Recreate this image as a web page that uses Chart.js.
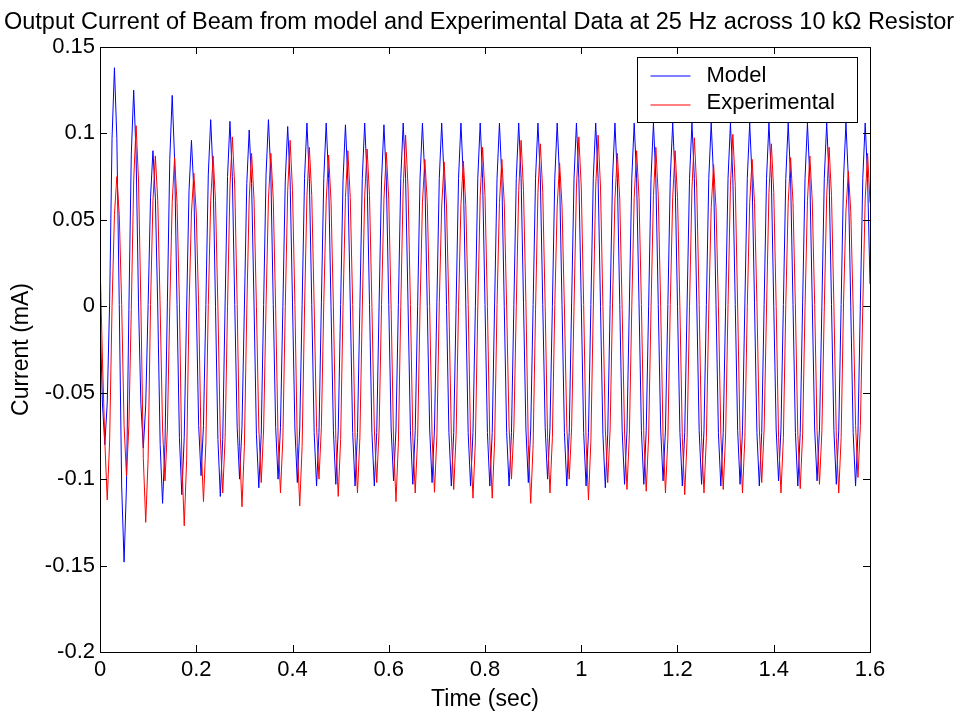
<!DOCTYPE html>
<html>
<head>
<meta charset="utf-8">
<script src="https://cdn.jsdelivr.net/npm/chart.js@4.4.1/dist/chart.umd.min.js"></script>
<style>
  html, body { margin: 0; padding: 0; background: #fff; }
  #wrap { width: 958px; height: 713px; }
</style>
</head>
<body>
<div id="wrap"><canvas id="grafica" width="958" height="713"></canvas></div>
<script>
// sampled every 5 ms, 8 samples per 25 Hz cycle (one row = one cycle)
const timeStep = 0.005;

const modelCurrent = [
  -0.003, -0.056, -0.080, -0.056, 0.002, 0.097, 0.138, 0.097,
  0.001, -0.104, -0.148, -0.104, -0.002, 0.088, 0.125, 0.088,
  0.002, -0.057, -0.082, -0.057, 0.001, 0.063, 0.090, 0.063,
  -0.001, -0.080, -0.114, -0.080, 0.002, 0.085, 0.122, 0.085,
  0.001, -0.076, -0.109, -0.076, -0.001, 0.067, 0.096, 0.067,
  0.002, -0.069, -0.098, -0.069, 0.001, 0.076, 0.108, 0.076,
  0.000, -0.077, -0.110, -0.077, 0.002, 0.075, 0.107, 0.075,
  0.001, -0.070, -0.100, -0.070, -0.001, 0.071, 0.102, 0.071,
  0.002, -0.074, -0.105, -0.074, 0.001, 0.076, 0.108, 0.076,
  0.001, -0.070, -0.100, -0.070, 0.000, 0.073, 0.104, 0.073,
  0.002, -0.071, -0.102, -0.071, 0.001, 0.074, 0.106, 0.074,
  0.001, -0.073, -0.104, -0.073, 0.002, 0.074, 0.106, 0.074,
  0.000, -0.072, -0.103, -0.072, 0.001, 0.073, 0.105, 0.073,
  0.002, -0.073, -0.104, -0.073, 0.000, 0.074, 0.106, 0.074,
  0.001, -0.073, -0.104, -0.073, 0.002, 0.073, 0.105, 0.073,
  0.001, -0.071, -0.101, -0.071, 0.001, 0.074, 0.106, 0.074,
  0.002, -0.072, -0.103, -0.072, 0.000, 0.074, 0.106, 0.074,
  0.000, -0.071, -0.102, -0.071, 0.002, 0.074, 0.106, 0.074,
  0.001, -0.073, -0.104, -0.073, 0.001, 0.074, 0.106, 0.074,
  0.002, -0.073, -0.104, -0.073, 0.000, 0.074, 0.106, 0.074,
  0.001, -0.073, -0.104, -0.073, 0.002, 0.074, 0.106, 0.074,
  0.000, -0.073, -0.104, -0.073, 0.001, 0.074, 0.106, 0.074,
  0.002, -0.071, -0.102, -0.071, 0.001, 0.074, 0.106, 0.074,
  0.001, -0.070, -0.100, -0.070, 0.000, 0.074, 0.106, 0.074,
  0.001, -0.073, -0.104, -0.073, 0.002, 0.074, 0.106, 0.074,
  0.002, -0.073, -0.104, -0.073, 0.001, 0.074, 0.106, 0.074,
  0.000, -0.074, -0.105, -0.074, 0.001, 0.074, 0.106, 0.074,
  0.001, -0.072, -0.103, -0.072, 0.002, 0.074, 0.106, 0.074,
  0.002, -0.072, -0.103, -0.072, 0.000, 0.074, 0.106, 0.074,
  0.001, -0.071, -0.101, -0.071, 0.001, 0.074, 0.106, 0.074,
  0.000, -0.073, -0.104, -0.073, 0.002, 0.074, 0.106, 0.074,
  0.002, -0.072, -0.103, -0.072, 0.001, 0.074, 0.106, 0.074,
  0.001, -0.073, -0.104, -0.073, 0.000, 0.074, 0.106, 0.074,
  0.001, -0.072, -0.103, -0.072, 0.002, 0.074, 0.106, 0.074,
  0.002, -0.073, -0.104, -0.073, 0.001, 0.074, 0.106, 0.074,
  0.000, -0.071, -0.101, -0.071, 0.001, 0.074, 0.106, 0.074,
  0.001, -0.073, -0.104, -0.073, 0.002, 0.074, 0.106, 0.074,
  0.002, -0.071, -0.101, -0.071, 0.000, 0.074, 0.106, 0.074,
  0.001, -0.072, -0.103, -0.072, 0.001, 0.074, 0.106, 0.074,
  0.000, -0.073, -0.104, -0.073, 0.002, 0.074, 0.106, 0.074,
  0.013
];

const experimentalCurrent = [
  0.027, -0.030, -0.078, -0.112, -0.078, 0.000, 0.053, 0.075,
  0.053, 0.001, -0.069, -0.098, -0.069, -0.002, 0.073, 0.1045,
  0.073, 0.000, -0.088, -0.125, -0.088, 0.001, 0.061, 0.087,
  0.061, -0.001, -0.071, -0.101, -0.071, 0.000, 0.060, 0.086,
  0.060, 0.002, -0.089, -0.127, -0.089, -0.001, 0.054, 0.077,
  0.054, 0.000, -0.079, -0.113, -0.079, 0.001, 0.061, 0.087,
  0.061, -0.001, -0.076, -0.108, -0.076, 0.000, 0.069, 0.098,
  0.069, 0.001, -0.081, -0.116, -0.081, -0.002, 0.062, 0.0885,
  0.062, 0.000, -0.071, -0.102, -0.071, 0.001, 0.062, 0.0885,
  0.062, -0.002, -0.076, -0.108, -0.076, 0.000, 0.067, 0.096,
  0.067, 0.001, -0.081, -0.1155, -0.081, -0.001, 0.064, 0.092,
  0.064, 0.000, -0.070, -0.100, -0.070, 0.002, 0.061, 0.0875,
  0.061, -0.001, -0.077, -0.110, -0.077, 0.000, 0.063, 0.090,
  0.063, 0.001, -0.076, -0.108, -0.076, -0.001, 0.064, 0.091,
  0.064, 0.000, -0.071, -0.102, -0.071, 0.001, 0.062, 0.089,
  0.062, -0.002, -0.079, -0.113, -0.079, 0.000, 0.069, 0.099,
  0.069, 0.001, -0.076, -0.108, -0.076, -0.001, 0.060, 0.085,
  0.060, 0.000, -0.075, -0.1076, -0.075, 0.002, 0.058, 0.0835,
  0.058, -0.001, -0.074, -0.106, -0.074, 0.000, 0.059, 0.084,
  0.059, 0.001, -0.078, -0.111, -0.078, -0.001, 0.064, 0.092,
  0.064, 0.000, -0.078, -0.111, -0.078, 0.001, 0.060, 0.085,
  0.060, -0.001, -0.070, -0.100, -0.070, 0.000, 0.067, 0.096,
  0.067, 0.002, -0.080, -0.114, -0.080, -0.002, 0.066, 0.094,
  0.066, 0.000, -0.076, -0.108, -0.076, 0.001, 0.058, 0.083,
  0.058, -0.001, -0.070, -0.100, -0.070, 0.000, 0.069, 0.098,
  0.069, 0.001, -0.078, -0.112, -0.078, -0.001, 0.069, 0.099,
  0.069, 0.000, -0.071, -0.102, -0.071, 0.002, 0.062, 0.0885,
  0.062, -0.002, -0.074, -0.106, -0.074, 0.000, 0.063, 0.090,
  0.063, 0.001, -0.075, -0.107, -0.075, -0.001, 0.064, 0.092,
  0.064, 0.000, -0.076, -0.108, -0.076, 0.001, 0.063, 0.090,
  0.063, -0.001, -0.076, -0.109, -0.076, 0.000, 0.068, 0.0975,
  0.068, 0.001, -0.076, -0.108, -0.076, -0.002, 0.057, 0.082,
  0.057, 0.000, -0.074, -0.106, -0.074, 0.001, 0.070, 0.0995,
  0.070, -0.001, -0.076, -0.108, -0.076, 0.000, 0.060, 0.085,
  0.060, 0.002, -0.071, -0.102, -0.071, -0.001, 0.066, 0.094,
  0.066, 0.000, -0.076, -0.108, -0.076, 0.001, 0.060, 0.086,
  0.060, -0.001, -0.074, -0.1055, -0.074, 0.000, 0.061, 0.087,
  0.061, 0.001, -0.072, -0.103, -0.072, -0.001, 0.064, 0.092,
  0.064, 0.000, -0.076, -0.108, -0.076, 0.002, 0.055, 0.078,
  0.055, -0.001, -0.069, -0.099, -0.069, 0.000, 0.062, 0.0885,
  0.060
];

const xTickValues = [0, 0.2, 0.4, 0.6, 0.8, 1, 1.2, 1.4, 1.6];
const xTickLabels = ["0", "0.2", "0.4", "0.6", "0.8", "1", "1.2", "1.4", "1.6"];
const yTickValues = [-0.2, -0.15, -0.1, -0.05, 0, 0.05, 0.1, 0.15];
const yTickLabels = ["-0.2", "-0.15", "-0.1", "-0.05", "0", "0.05", "0.1", "0.15"];

const seriesNames = ["Model", "Experimental"];
const seriesColors = ["#0000ff", "#ff0000"];

const fontFamily = "'Liberation Sans', Arial, Helvetica, sans-serif";

function toPoints(values) {
  return values.map((v, i) => ({ x: i * timeStep, y: v }));
}

function setTicks(values) {
  return scale => { scale.ticks = values.map(v => ({ value: v })); };
}

// MATLAB-like box, inward ticks on all four sides, and the legend box
const matlabFrame = {
  id: "matlabFrame",
  afterDraw(chart) {
    const ctx = chart.ctx;
    const a = chart.chartArea;
    const x = chart.scales.x;
    const y = chart.scales.y;
    const tl = 7;
    ctx.save();
    ctx.strokeStyle = "#000";
    ctx.lineWidth = 1;
    ctx.beginPath();
    x.ticks.forEach(t => {
      const px = Math.round(x.getPixelForValue(t.value)) + 0.5;
      ctx.moveTo(px, a.bottom); ctx.lineTo(px, a.bottom - tl);
      ctx.moveTo(px, a.top); ctx.lineTo(px, a.top + tl);
    });
    y.ticks.forEach(t => {
      const py = Math.round(y.getPixelForValue(t.value)) + 0.5;
      ctx.moveTo(a.left, py); ctx.lineTo(a.left + tl, py);
      ctx.moveTo(a.right, py); ctx.lineTo(a.right - tl, py);
    });
    ctx.stroke();
    ctx.strokeRect(Math.round(a.left) + 0.5, Math.round(a.top) + 0.5,
      Math.round(a.right - a.left), Math.round(a.bottom - a.top));

    // legend
    const lw = 220, lh = 65;
    const lx = Math.round(a.right - 13 - lw) + 0.5;
    const ly = Math.round(a.top + 10) + 0.5;
    ctx.fillStyle = "#fff";
    ctx.fillRect(lx, ly, lw, lh);
    ctx.strokeStyle = "#000";
    ctx.strokeRect(lx, ly, lw, lh);
    ctx.font = "22px " + fontFamily;
    ctx.textBaseline = "middle";
    ctx.textAlign = "left";
    seriesNames.forEach((name, i) => {
      const rowY = ly + 18 + i * 27;
      ctx.strokeStyle = seriesColors[i];
      ctx.beginPath();
      ctx.moveTo(lx + 13, Math.round(rowY + i * 2));
      ctx.lineTo(lx + 53, Math.round(rowY + i * 2));
      ctx.stroke();
      ctx.fillStyle = "#000";
      ctx.fillText(name, lx + 69, rowY);
    });
    ctx.restore();
  }
};

new Chart(document.getElementById("grafica").getContext("2d"), {
  type: "line",
  data: {
    datasets: [
      { label: seriesNames[0], data: toPoints(modelCurrent), borderColor: seriesColors[0], order: 1 },
      { label: seriesNames[1], data: toPoints(experimentalCurrent), borderColor: seriesColors[1], order: 0 }
    ]
  },
  options: {
    responsive: false,
    animation: false,
    devicePixelRatio: 1,
    layout: { padding: 0 },
    elements: {
      point: { radius: 0 },
      line: { borderWidth: 1, tension: 0, fill: false }
    },
    plugins: {
      legend: { display: false },
      tooltip: { enabled: false },
      title: {
        display: true,
        text: "Output Current of Beam from model and Experimental Data at 25 Hz across 10 k\u03A9 Resistor",
        color: "#000",
        font: { family: fontFamily, size: 23.5, weight: "normal" },
        padding: { top: 8, bottom: 10.8 }
      }
    },
    scales: {
      x: {
        type: "linear",
        position: "bottom",
        min: 0,
        max: 1.6,
        afterBuildTicks: setTicks(xTickValues),
        afterFit: s => { s.height = 61; },
        grid: { display: false, drawTicks: false },
        border: { display: false },
        ticks: {
          color: "#000",
          padding: 5,
          maxRotation: 0,
          font: { family: fontFamily, size: 22 },
          callback: (v, i) => xTickLabels[i]
        },
        title: {
          display: true,
          text: "Time (sec)",
          color: "#000",
          font: { family: fontFamily, size: 23 },
          padding: { top: 0, bottom: 0 }
        }
      },
      y: {
        type: "linear",
        position: "left",
        min: -0.2,
        max: 0.15,
        afterBuildTicks: setTicks(yTickValues),
        afterFit: s => { s.width = 100; },
        grid: { display: false, drawTicks: false },
        border: { display: false },
        ticks: {
          color: "#000",
          padding: 5,
          font: { family: fontFamily, size: 22 },
          callback: (v, i) => yTickLabels[i]
        },
        title: {
          display: true,
          text: "Current (mA)",
          color: "#000",
          font: { family: fontFamily, size: 23 },
          padding: { top: 8, bottom: 0 }
        }
      },
      yRight: {
        type: "linear",
        position: "right",
        min: -0.2,
        max: 0.15,
        afterFit: s => { s.width = 88; },
        grid: { display: false, drawTicks: false },
        border: { display: false },
        ticks: { display: false }
      }
    }
  },
  plugins: [matlabFrame]
});
</script>
</body>
</html>
